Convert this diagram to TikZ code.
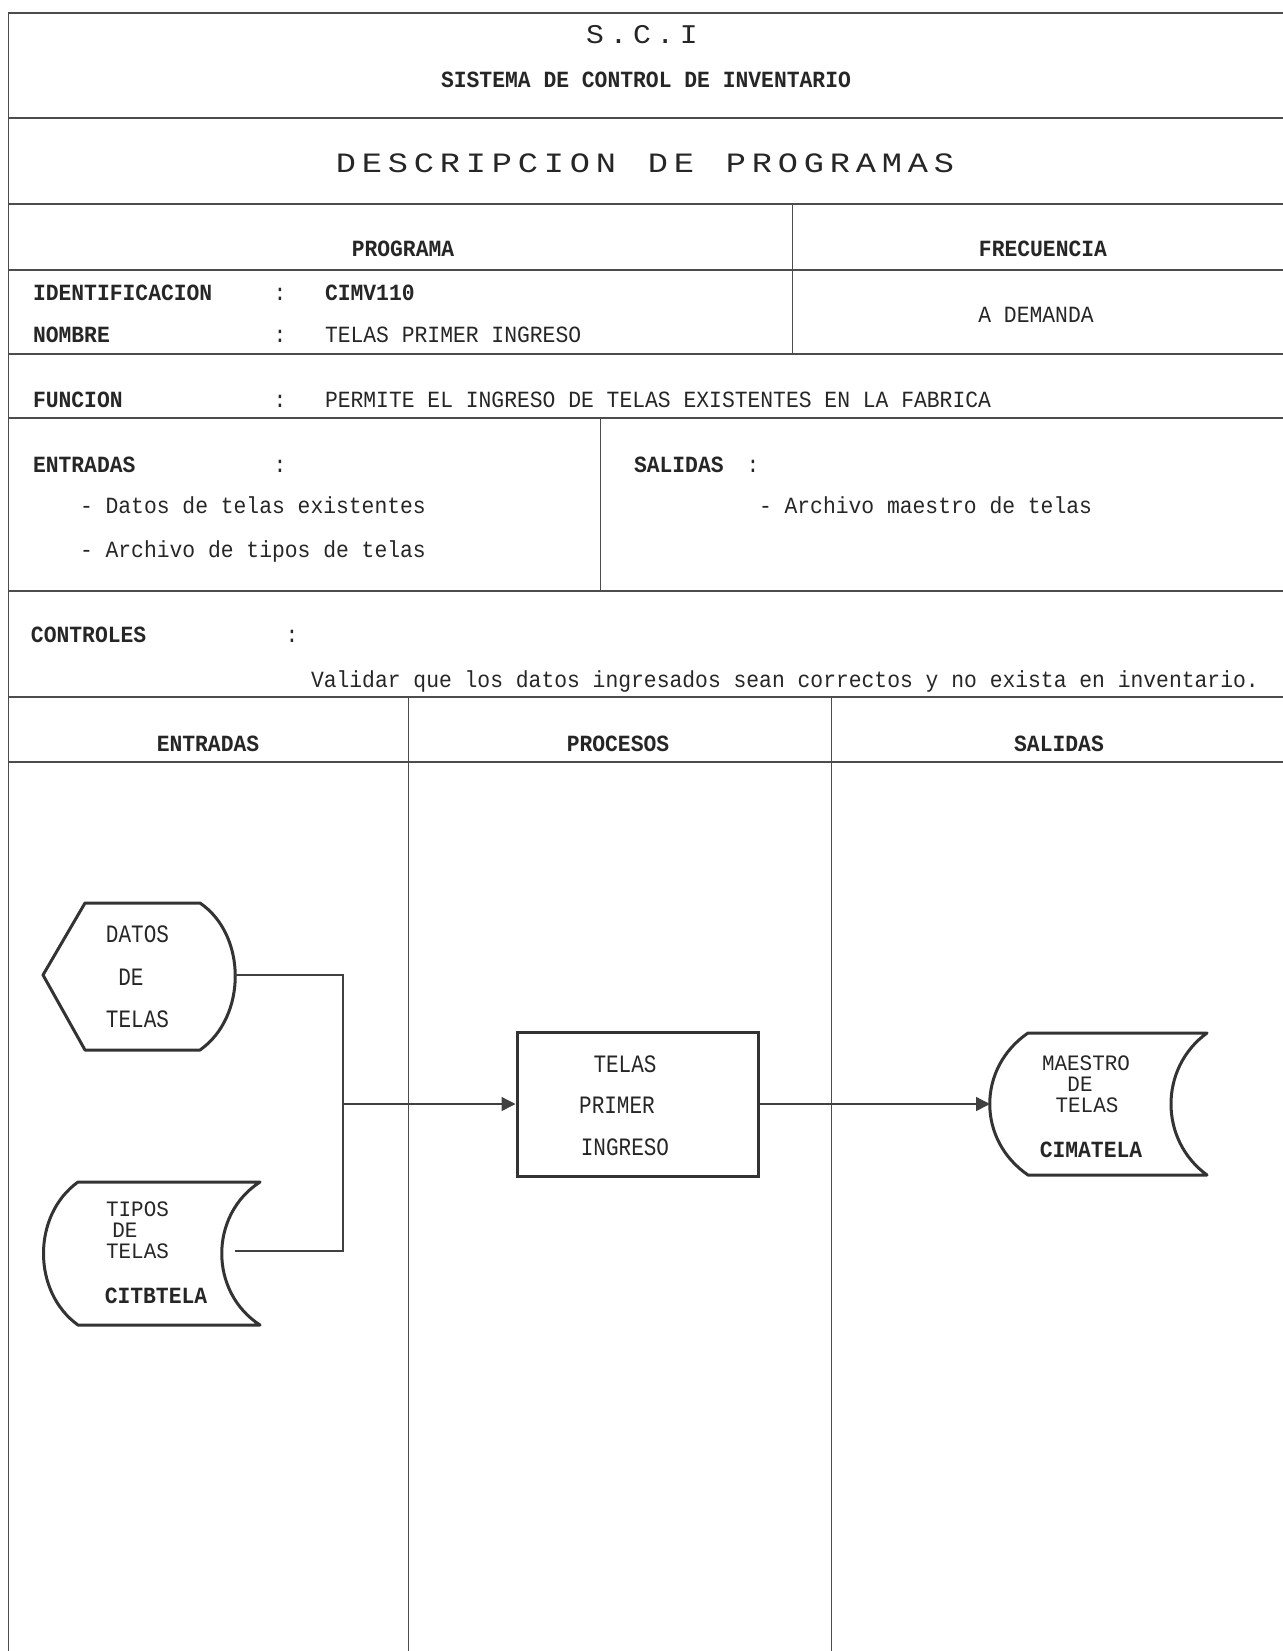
\documentclass[tikz,border=0pt]{standalone}
\usepackage{fontspec}
\usetikzlibrary{arrows.meta}
\setmainfont{Liberation Mono}
\newfontfamily\fambody[FakeStretch=0.92]{Liberation Mono}
\newfontfamily\famshape[FakeStretch=0.84]{Liberation Mono}
\newfontfamily\famstack[FakeStretch=0.95]{Liberation Mono}
\newfontfamily\famtitle[FakeStretch=1.2]{Liberation Mono}
\newfontfamily\famsci[FakeStretch=1.1]{Liberation Mono}
\newcommand\fbody{\fambody\fontsize{11.6}{13}\selectfont}
\newcommand\fshp{\famshape\fontsize{12.5}{13}\selectfont}
\newcommand\fstk{\famstack\fontsize{11}{12}\selectfont}
\newcommand\fsci{\famsci\fontsize{13.5}{14}\selectfont}
\newcommand\fdesc{\famtitle\fontsize{14}{15}\selectfont}
\makeatletter
\def\spaced#1#2{\def\sp@k{#1}\sp@loop#2\relax}
\def\sp@loop#1{\ifx#1\relax\kern-\sp@k\relax\else#1\kern\sp@k\relax\expandafter\sp@loop\fi}
\makeatother
\tikzset{
  hline/.style={line width=1.1pt, draw=black!70},
  vline/.style={line width=0.5pt, draw=black!70},
  txt/.style={inner sep=0pt, outer sep=0pt, text=black!85, font=\fbody},
  lt/.style={txt, anchor=base west},
  ct/.style={txt, anchor=base},
  bt/.style={font=\fbody\bfseries},
  st/.style={font=\fshp},
  sk/.style={font=\fstk},
  shapeline/.style={line width=1.5pt, draw=black!80, line join=round},
  conn/.style={line width=0.7pt, draw=black!75},
  arr/.style={conn, -{Triangle[length=7pt,width=7pt]}},
}
\begin{document}
\begin{tikzpicture}[x=0.5pt,y=-0.5pt]
\useasboundingbox[fill=white] (0,0) rectangle (1283,1651);
% table frame
\draw[vline] (8,13) -- (8,1651);
\foreach \yy in {13,118,204,270,354,418,591,697,762}
  \draw[hline] (8,\yy) -- (1283,\yy);
\draw[vline] (792,204) -- (792,354);
\draw[vline] (600,418) -- (600,591);
\draw[vline] (408,697) -- (408,1651);
\draw[vline] (831,697) -- (831,1651);
% header
\node[ct, font=\fsci] (sci) at (642,43) {\spaced{2.8pt}{S.C.I}};
\node[ct, bt] (sistema) at (646,87) {SISTEMA DE CONTROL DE INVENTARIO};
\node[ct, font=\fdesc] (desc) at (645,172) {\spaced{2.92pt}{DESCRIPCION~DE~PROGRAMAS}};
\node[ct, bt] (programa) at (403,256) {PROGRAMA};
\node[ct, bt] (frec) at (1043,256) {FRECUENCIA};
\node[lt, bt] (idl) at (33,300) {IDENTIFICACION};
\node[ct] (idc) at (280,300) {:};
\node[lt, bt] (idv) at (325,300) {CIMV110};
\node[lt, bt] (noml) at (33,342) {NOMBRE};
\node[ct] (nomc) at (280,342) {:};
\node[lt] (nomv) at (325,342) {TELAS PRIMER INGRESO};
\node[ct] (dem) at (1036,322) {A DEMANDA};
\node[lt, bt] (funl) at (33,407) {FUNCION};
\node[ct] (func) at (280,407) {:};
\node[lt] (funv) at (325,407) {PERMITE EL INGRESO DE TELAS EXISTENTES EN LA FABRICA};
\node[lt, bt] (entl) at (33,472) {ENTRADAS};
\node[ct] (entc) at (280,472) {:};
\node[lt] (ent1) at (80,513) {- Datos de telas existentes};
\node[lt] (ent2) at (80,557) {- Archivo de tipos de telas};
\node[lt, bt] (sall) at (634,472) {SALIDAS};
\node[ct] (salc) at (753,472) {:};
\node[lt] (sal1) at (759,513) {- Archivo maestro de telas};
\node[lt, bt] (conl) at (31,642) {CONTROLES};
\node[ct] (conc) at (292,642) {:};
\node[lt] (conv) at (311,687) {Validar que los datos ingresados sean correctos y no exista en inventario.};
\node[ct, bt] (hent) at (208,751) {ENTRADAS};
\node[ct, bt] (hpro) at (618,751) {PROCESOS};
\node[ct, bt] (hsal) at (1059,751) {SALIDAS};
% display shape: DATOS DE TELAS
\draw[shapeline] (85,903) -- (200,903) .. controls (247,935) and (247,1017) .. (200,1050) -- (85,1050) -- (43,975) -- cycle;
\coordinate (datosR) at (235,975);
\node[ct, st] (d1) at (137.5,942) {DATOS};
\node[ct, st] (d2) at (131,985) {DE};
\node[ct, st] (d3) at (137.5,1027) {TELAS};
% stored data: TIPOS DE TELAS
\draw[shapeline] (78,1182) -- (260,1182) .. controls (209,1215) and (209,1292) .. (260,1325) -- (78,1325) .. controls (32,1292) and (32,1215) .. (78,1182) -- cycle;
\coordinate (tiposR) at (235,1251);
\node[ct, sk] (t1) at (137.5,1216) {TIPOS};
\node[ct, sk] (t2) at (125,1237) {DE};
\node[ct, sk] (t3) at (137.5,1258) {TELAS};
\node[ct, bt] (t4) at (156,1303) {CITBTELA};
% process box
\node[draw=black!80, line width=1.5pt, minimum width=120.5pt, minimum height=72pt, inner sep=0pt] (proc) at (637.5,1104) {};
\node[ct, st] (p1) at (625,1072) {TELAS};
\node[ct, st] (p2) at (617,1113) {PRIMER};
\node[ct, st] (p3) at (625,1155) {INGRESO};
% stored data: MAESTRO DE TELAS
\draw[shapeline] (1028,1033) -- (1207,1033) .. controls (1159,1068) and (1159,1140) .. (1207,1175) -- (1028,1175) .. controls (977,1140) and (977,1068) .. (1028,1033) -- cycle;
\coordinate (maeL) at (990,1104);
\node[ct, sk] (m1) at (1086,1070) {MAESTRO};
\node[ct, sk] (m2) at (1080,1091) {DE};
\node[ct, sk] (m3) at (1087,1112) {TELAS};
\node[ct, bt] (m4) at (1091,1157) {CIMATELA};
% connectors
\coordinate (junc) at (343,1104);
\draw[conn] (datosR) -| (junc) |- (tiposR);
\draw[arr] (junc) -- (proc.west);
\draw[arr] (proc.east) -- (maeL);
\end{tikzpicture}
\end{document}
